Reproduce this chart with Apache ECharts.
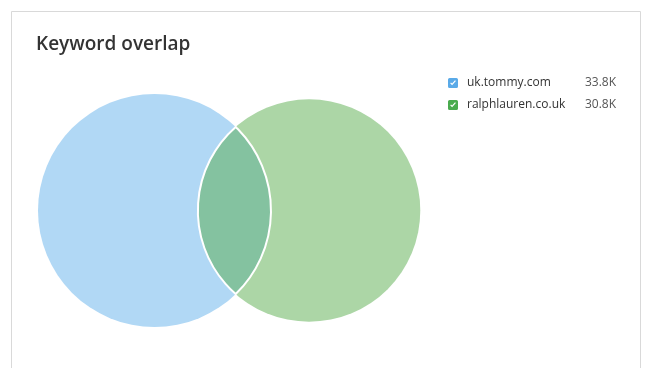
<!DOCTYPE html>
<html>
<head>
<meta charset="utf-8">
<script src="https://cdn.jsdelivr.net/npm/echarts@6/dist/echarts.min.js"></script>
<style>
html,body{margin:0;padding:0;background:#fff;}
#chart{width:646px;height:368px;}
</style>
</head>
<body>
<div id="chart"></div>
<script>
// ---- data (thousands of keywords) ----
const domains = ['uk.tommy.com', 'ralphlauren.co.uk'];
const keywordCounts = [33.8, 30.8];
const valueLabels = ['33.8K', '30.8K'];
const overlapCount = 6.7; // estimated shared keywords

// ---- styles ----
const circleColors = ['#b1d8f5', '#acd6a6'];
const overlapColor = '#84c2a0';
const checkColors = ['#5aaae8', '#4aab4e'];

// radii so that circle areas are proportional to values
const r1 = Math.sqrt(keywordCounts[0] / Math.PI);
const r2 = Math.sqrt(keywordCounts[1] / Math.PI);

function lensArea(d, a, b) {
  if (d >= a + b) return 0;
  if (d <= Math.abs(a - b)) return Math.PI * Math.min(a, b) ** 2;
  const t1 = a * a * Math.acos((d * d + a * a - b * b) / (2 * d * a));
  const t2 = b * b * Math.acos((d * d + b * b - a * a) / (2 * d * b));
  const t3 = 0.5 * Math.sqrt((-d + a + b) * (d + a - b) * (d - a + b) * (d + a + b));
  return t1 + t2 - t3;
}
let lo = Math.abs(r1 - r2), hi = r1 + r2;
for (let i = 0; i < 80; i++) {
  const mid = (lo + hi) / 2;
  if (lensArea(mid, r1, r2) > overlapCount) lo = mid; else hi = mid;
}
const dist = (lo + hi) / 2;

// layout of plotting area
const gridTop = 94, gridLeft = 38, gridH = 233, gridW = 384;
const pxPerUnit = gridH / (2 * r1);
const xMin = -r1, xMax = -r1 + gridW / pxPerUnit;

const checkIcon = 'path://M1.6,0 L8.4,0 Q10,0 10,1.6 L10,8.4 Q10,10 8.4,10 L1.6,10 Q0,10 0,8.4 L0,1.6 Q0,0 1.6,0 Z ' +
  'M2.2,5.3 L4.1,7.2 L7.9,3.1 L7.0,2.3 L4.1,5.4 L3.0,4.4 Z';

function circleItem(params, api) {
  const c = api.coord([api.value(0), api.value(1)]);
  const r = api.size([api.value(2), 0])[0];
  return {
    type: 'circle',
    shape: { cx: c[0], cy: c[1], r: r },
    style: { fill: api.visual('color') }
  };
}

function lensItem(params, api) {
  const p1 = api.coord([api.value(0), api.value(1)]);
  const p2 = api.coord([api.value(3), api.value(4)]);
  const R1 = api.size([api.value(2), 0])[0];
  const R2 = api.size([api.value(5), 0])[0];
  const d = p2[0] - p1[0];
  const a = (d * d + R1 * R1 - R2 * R2) / (2 * d);
  const h = Math.sqrt(Math.max(R1 * R1 - a * a, 0));
  const xi = p1[0] + a, yt = p1[1] - h, yb = p1[1] + h;
  const path = 'M' + xi + ',' + yt +
    ' A' + R2 + ',' + R2 + ' 0 0 0 ' + xi + ',' + yb +
    ' A' + R1 + ',' + R1 + ' 0 0 0 ' + xi + ',' + yt + ' Z';
  return {
    type: 'path',
    shape: { pathData: path },
    style: { fill: overlapColor, stroke: '#ffffff', lineWidth: 2 }
  };
}

const chart = echarts.init(document.getElementById('chart'), null, { renderer: 'canvas' });
chart.setOption({
  animation: false,
  backgroundColor: '#ffffff',
  textStyle: { fontFamily: 'Open Sans, Noto Sans, sans-serif' },
  graphic: [{
    type: 'rect', z: -10, silent: true,
    shape: { x: 11.5, y: 11.5, width: 629, height: 420 },
    style: { fill: '#ffffff', stroke: '#d9d9d9', lineWidth: 1 }
  }],
  title: {
    text: 'Keyword overlap',
    left: 31, top: 30,
    textStyle: { fontSize: 19, fontWeight: 600, color: '#333333', fontFamily: 'Open Sans, Noto Sans, sans-serif' }
  },
  grid: { left: gridLeft, top: gridTop, width: gridW, height: gridH },
  xAxis: { type: 'value', min: xMin, max: xMax, show: false },
  yAxis: { type: 'value', min: -r1, max: r1, show: false },
  legend: {
    orient: 'vertical',
    left: 448, top: 77,
    padding: 0,
    itemWidth: 10, itemHeight: 10, itemGap: 10,
    selectedMode: false,
    icon: checkIcon,
    data: domains.map((n, i) => ({ name: n, itemStyle: { color: checkColors[i] } })),
    formatter: function (name) {
      const i = domains.indexOf(name);
      return '{n|' + name + '}{v|' + valueLabels[i] + '}';
    },
    textStyle: {
      rich: {
        n: { width: 114, padding: [0, 0, 0, 4], fontSize: 12, color: '#333333', lineHeight: 15, fontFamily: 'Open Sans, Noto Sans, sans-serif' },
        v: { width: 35, align: 'right', fontSize: 12, color: '#555555', lineHeight: 15, fontFamily: 'Open Sans, Noto Sans, sans-serif' }
      }
    }
  },
  series: [
    {
      name: domains[0], type: 'custom', renderItem: circleItem,
      itemStyle: { color: circleColors[0] },
      encode: { x: 0, y: 1 },
      data: [[0, 0, r1]], z: 1
    },
    {
      name: domains[1], type: 'custom', renderItem: circleItem,
      itemStyle: { color: circleColors[1] },
      encode: { x: 0, y: 1 },
      data: [[dist, 0, r2]], z: 2
    },
    {
      name: 'overlap', type: 'custom', renderItem: lensItem,
      encode: { x: [0, 3], y: [1, 4] },
      data: [[0, 0, r1, dist, 0, r2]], z: 3
    }
  ]
});
</script>
</body>
</html>
